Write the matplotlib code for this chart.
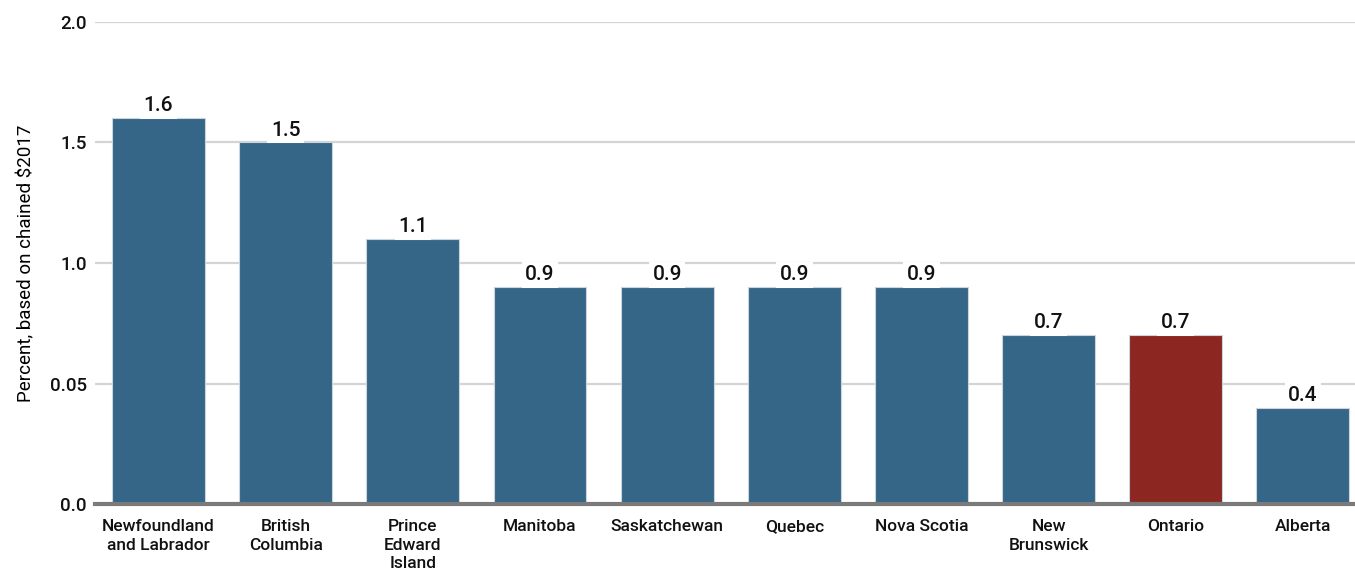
import matplotlib
matplotlib.use("Agg")
import matplotlib.pyplot as plt

provinces = ["Newfoundland\nand Labrador", "British\nColumbia", "Prince\nEdward\nIsland",
             "Manitoba", "Saskatchewan", "Quebec", "Nova Scotia", "New\nBrunswick",
             "Ontario", "Alberta"]
growth = [1.6, 1.5, 1.1, 0.9, 0.9, 0.9, 0.9, 0.7, 0.7, 0.4]
highlight = "Ontario"
ytick_vals = [0.0, 0.5, 1.0, 1.5, 2.0]
ytick_labels = ["0.0", "0.05", "1.0", "1.5", "2.0"]

plt.rcParams['font.family'] = ['Roboto', 'DejaVu Sans']
plt.rcParams['font.weight'] = 'medium'

blue = "#356687"
red = "#8b2720"

fig = plt.figure(figsize=(13.55, 5.77), dpi=100)
ax = fig.add_axes([0.0701, 0.1265, 0.9299, 0.8354])

colors = [red if p == highlight else blue for p in provinces]
x = range(len(provinces))
bars = ax.bar(x, growth, width=0.73, color=colors, edgecolor="#c9d6df",
              linewidth=0.8, zorder=3)

for b, v in zip(bars, growth):
    ax.text(b.get_x() + b.get_width() / 2, v + 0.012, f"{v:.1f}",
            ha="center", va="bottom", fontsize=15, color="#111111", zorder=4,
            bbox=dict(facecolor="white", edgecolor="none", pad=2.5))

ax.set_xlim(-0.5, 9.41)
ax.set_ylim(0, 2.0)
ax.set_yticks(ytick_vals)
ax.set_yticklabels(ytick_labels, fontsize=13.5)
ax.set_xticks(list(x))
ax.set_xticklabels(provinces, fontsize=12.5, linespacing=1.3, va="top")
ax.tick_params(axis="both", length=0, colors="#111111")
ax.tick_params(axis="x", pad=11)
ax.tick_params(axis="y", pad=6)

ax.yaxis.grid(True, color="#d4d4d4", linewidth=1.6, zorder=0)
ax.set_axisbelow(True)
for s in ["top", "right", "left"]:
    ax.spines[s].set_visible(False)
ax.spines["bottom"].set_color("#7a7a7a")
ax.spines["bottom"].set_linewidth(3)
ax.spines["bottom"].set_zorder(5)

ax.set_ylabel("Percent, based on chained $2017", fontsize=13.5, labelpad=10)

fig.savefig("out.png", dpi=100)
